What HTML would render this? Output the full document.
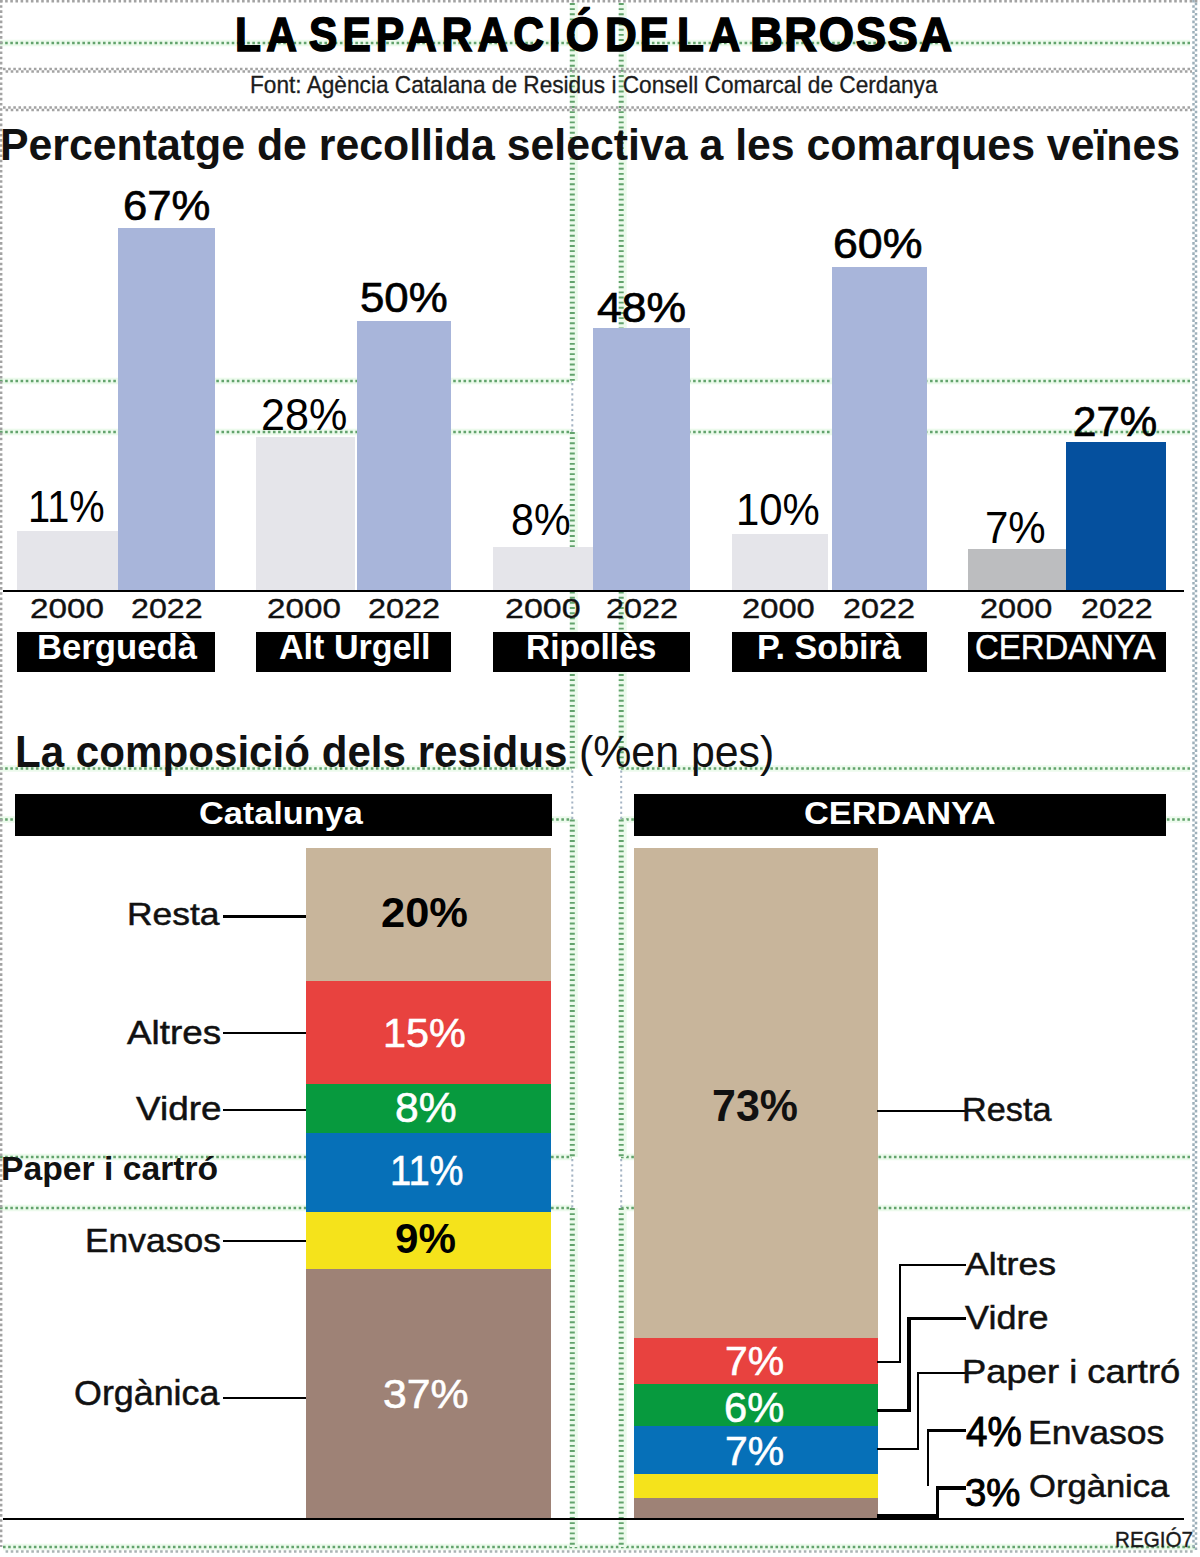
<!DOCTYPE html>
<html lang="ca"><head><meta charset="utf-8"><title>La separació de la brossa</title>
<style>
html,body{margin:0;padding:0;background:#fff}
#page{position:relative;width:1200px;height:1557px;overflow:hidden;background:#fff;font-family:"Liberation Sans",sans-serif}
.t{position:absolute;white-space:nowrap;line-height:1;transform-origin:0 0;margin:0}
.r{position:absolute}
svg{position:absolute;left:0;top:0}
</style></head><body>
<div id="page">
<svg width="1200" height="1557" viewBox="0 0 1200 1557" >
<line x1="0" y1="43" x2="572" y2="43" stroke="#ecfaec" stroke-width="6.5"/>
<line x1="0" y1="43" x2="572" y2="43" stroke="#62a36c" stroke-width="2.5" stroke-dasharray="2.575 2.575" stroke-dashoffset="0"/>
<line x1="621" y1="43" x2="1190" y2="43" stroke="#ecfaec" stroke-width="6.5"/>
<line x1="621" y1="43" x2="1190" y2="43" stroke="#62a36c" stroke-width="2.5" stroke-dasharray="2.575 2.575" stroke-dashoffset="0"/>
<line x1="0" y1="381" x2="572" y2="381" stroke="#ecfaec" stroke-width="6.5"/>
<line x1="0" y1="381" x2="572" y2="381" stroke="#62a36c" stroke-width="2.5" stroke-dasharray="2.575 2.575" stroke-dashoffset="0"/>
<line x1="621" y1="381" x2="1190" y2="381" stroke="#ecfaec" stroke-width="6.5"/>
<line x1="621" y1="381" x2="1190" y2="381" stroke="#62a36c" stroke-width="2.5" stroke-dasharray="2.575 2.575" stroke-dashoffset="0"/>
<line x1="0" y1="432" x2="572" y2="432" stroke="#ecfaec" stroke-width="6.5"/>
<line x1="0" y1="432" x2="572" y2="432" stroke="#62a36c" stroke-width="2.5" stroke-dasharray="2.575 2.575" stroke-dashoffset="0"/>
<line x1="621" y1="432" x2="1190" y2="432" stroke="#ecfaec" stroke-width="6.5"/>
<line x1="621" y1="432" x2="1190" y2="432" stroke="#62a36c" stroke-width="2.5" stroke-dasharray="2.575 2.575" stroke-dashoffset="0"/>
<line x1="0" y1="768.5" x2="572" y2="768.5" stroke="#ecfaec" stroke-width="6.5"/>
<line x1="0" y1="768.5" x2="572" y2="768.5" stroke="#62a36c" stroke-width="2.5" stroke-dasharray="2.575 2.575" stroke-dashoffset="0"/>
<line x1="621" y1="768.5" x2="1190" y2="768.5" stroke="#ecfaec" stroke-width="6.5"/>
<line x1="621" y1="768.5" x2="1190" y2="768.5" stroke="#62a36c" stroke-width="2.5" stroke-dasharray="2.575 2.575" stroke-dashoffset="0"/>
<line x1="0" y1="819.5" x2="572" y2="819.5" stroke="#ecfaec" stroke-width="6.5"/>
<line x1="0" y1="819.5" x2="572" y2="819.5" stroke="#62a36c" stroke-width="2.5" stroke-dasharray="2.575 2.575" stroke-dashoffset="0"/>
<line x1="621" y1="819.5" x2="1190" y2="819.5" stroke="#ecfaec" stroke-width="6.5"/>
<line x1="621" y1="819.5" x2="1190" y2="819.5" stroke="#62a36c" stroke-width="2.5" stroke-dasharray="2.575 2.575" stroke-dashoffset="0"/>
<line x1="0" y1="1157" x2="572" y2="1157" stroke="#ecfaec" stroke-width="6.5"/>
<line x1="0" y1="1157" x2="572" y2="1157" stroke="#62a36c" stroke-width="2.5" stroke-dasharray="2.575 2.575" stroke-dashoffset="0"/>
<line x1="621" y1="1157" x2="1190" y2="1157" stroke="#ecfaec" stroke-width="6.5"/>
<line x1="621" y1="1157" x2="1190" y2="1157" stroke="#62a36c" stroke-width="2.5" stroke-dasharray="2.575 2.575" stroke-dashoffset="0"/>
<line x1="0" y1="1208" x2="572" y2="1208" stroke="#ecfaec" stroke-width="6.5"/>
<line x1="0" y1="1208" x2="572" y2="1208" stroke="#62a36c" stroke-width="2.5" stroke-dasharray="2.575 2.575" stroke-dashoffset="0"/>
<line x1="621" y1="1208" x2="1190" y2="1208" stroke="#ecfaec" stroke-width="6.5"/>
<line x1="621" y1="1208" x2="1190" y2="1208" stroke="#62a36c" stroke-width="2.5" stroke-dasharray="2.575 2.575" stroke-dashoffset="0"/>
<line x1="3" y1="1547" x2="1195" y2="1547" stroke="#ecfaec" stroke-width="6.5"/>
<line x1="3" y1="1547" x2="1195" y2="1547" stroke="#62a36c" stroke-width="2.5" stroke-dasharray="2.575 2.575" stroke-dashoffset="0"/>
<line x1="3" y1="1551.5" x2="1195" y2="1551.5" stroke="#a9b4b4" stroke-width="2.5" stroke-dasharray="2.575 2.575" stroke-dashoffset="2.575"/>
<line x1="573.8" y1="3" x2="573.8" y2="381" stroke="#ecfaec" stroke-width="8"/>
<line x1="572.3" y1="3" x2="572.3" y2="381" stroke="#62a36c" stroke-width="5" stroke-dasharray="1.9 3.2500000000000004"/>
<line x1="573.8" y1="432" x2="573.8" y2="768.5" stroke="#ecfaec" stroke-width="8"/>
<line x1="572.3" y1="432" x2="572.3" y2="768.5" stroke="#62a36c" stroke-width="5" stroke-dasharray="1.9 3.2500000000000004"/>
<line x1="573.8" y1="819.5" x2="573.8" y2="1157" stroke="#ecfaec" stroke-width="8"/>
<line x1="572.3" y1="819.5" x2="572.3" y2="1157" stroke="#62a36c" stroke-width="5" stroke-dasharray="1.9 3.2500000000000004"/>
<line x1="573.8" y1="1208" x2="573.8" y2="1547" stroke="#ecfaec" stroke-width="8"/>
<line x1="572.3" y1="1208" x2="572.3" y2="1547" stroke="#62a36c" stroke-width="5" stroke-dasharray="1.9 3.2500000000000004"/>
<line x1="572.3" y1="383" x2="572.3" y2="432" stroke="#a5b4c4" stroke-width="2" stroke-dasharray="2.2 2.95"/>
<line x1="572.3" y1="770.5" x2="572.3" y2="819.5" stroke="#a5b4c4" stroke-width="2" stroke-dasharray="2.2 2.95"/>
<line x1="572.3" y1="1159" x2="572.3" y2="1208" stroke="#a5b4c4" stroke-width="2" stroke-dasharray="2.2 2.95"/>
<line x1="622.7" y1="3" x2="622.7" y2="381" stroke="#ecfaec" stroke-width="8"/>
<line x1="621.2" y1="3" x2="621.2" y2="381" stroke="#62a36c" stroke-width="5" stroke-dasharray="1.9 3.2500000000000004"/>
<line x1="622.7" y1="432" x2="622.7" y2="768.5" stroke="#ecfaec" stroke-width="8"/>
<line x1="621.2" y1="432" x2="621.2" y2="768.5" stroke="#62a36c" stroke-width="5" stroke-dasharray="1.9 3.2500000000000004"/>
<line x1="622.7" y1="819.5" x2="622.7" y2="1157" stroke="#ecfaec" stroke-width="8"/>
<line x1="621.2" y1="819.5" x2="621.2" y2="1157" stroke="#62a36c" stroke-width="5" stroke-dasharray="1.9 3.2500000000000004"/>
<line x1="622.7" y1="1208" x2="622.7" y2="1547" stroke="#ecfaec" stroke-width="8"/>
<line x1="621.2" y1="1208" x2="621.2" y2="1547" stroke="#62a36c" stroke-width="5" stroke-dasharray="1.9 3.2500000000000004"/>
<line x1="621.2" y1="383" x2="621.2" y2="432" stroke="#a5b4c4" stroke-width="2" stroke-dasharray="2.2 2.95"/>
<line x1="621.2" y1="770.5" x2="621.2" y2="819.5" stroke="#a5b4c4" stroke-width="2" stroke-dasharray="2.2 2.95"/>
<line x1="621.2" y1="1159" x2="621.2" y2="1208" stroke="#a5b4c4" stroke-width="2" stroke-dasharray="2.2 2.95"/>
<line x1="1.2" y1="0" x2="1.2" y2="1547" stroke="#a3a3a3" stroke-width="2.4" stroke-dasharray="2.575 2.575" stroke-dashoffset="0"/>
<line x1="0" y1="1.2" x2="1200" y2="1.2" stroke="#a3a3a3" stroke-width="2.4" stroke-dasharray="2.575 2.575" stroke-dashoffset="0"/>
<line x1="1193.5" y1="0" x2="1193.5" y2="1550" stroke="#9db0ba" stroke-width="2.5" stroke-dasharray="2.575 2.575" stroke-dashoffset="0"/>
<line x1="1196" y1="0" x2="1196" y2="1550" stroke="#9db0ba" stroke-width="2.5" stroke-dasharray="2.575 2.575" stroke-dashoffset="2.575"/>
<line x1="3" y1="69" x2="1192" y2="69" stroke="#a3a3a3" stroke-width="2.5" stroke-dasharray="2.575 2.575" stroke-dashoffset="0"/>
<line x1="3" y1="71.5" x2="1192" y2="71.5" stroke="#a3a3a3" stroke-width="2.5" stroke-dasharray="2.575 2.575" stroke-dashoffset="2.575"/>
<line x1="3" y1="107.5" x2="1192" y2="107.5" stroke="#a3a3a3" stroke-width="2.5" stroke-dasharray="2.575 2.575" stroke-dashoffset="0"/>
<line x1="3" y1="110.0" x2="1192" y2="110.0" stroke="#a3a3a3" stroke-width="2.5" stroke-dasharray="2.575 2.575" stroke-dashoffset="2.575"/>
</svg>
<div class="r" style="left:17px;top:531px;width:100.5px;height:59px;background:#e5e5ea"></div>
<div class="r" style="left:117.5px;top:228px;width:97.5px;height:362px;background:#a8b5da"></div>
<div class="r" style="left:256px;top:436.5px;width:98.5px;height:153.5px;background:#e5e5ea"></div>
<div class="r" style="left:357px;top:320.5px;width:94px;height:269.5px;background:#a8b5da"></div>
<div class="r" style="left:493px;top:546.5px;width:100px;height:43.5px;background:#e5e5ea"></div>
<div class="r" style="left:593px;top:328px;width:97px;height:262px;background:#a8b5da"></div>
<div class="r" style="left:732px;top:534px;width:95.5px;height:56px;background:#e5e5ea"></div>
<div class="r" style="left:832px;top:267px;width:95px;height:323px;background:#a8b5da"></div>
<div class="r" style="left:968px;top:549px;width:98px;height:41px;background:#bcbdbf"></div>
<div class="r" style="left:1066px;top:441.5px;width:100px;height:148.5px;background:#05509e"></div>
<div class="r" style="left:3px;top:590px;width:1181px;height:2.2999999999999545px;background:#000"></div>
<div class="r" style="left:17px;top:632px;width:198px;height:40px;background:#000"></div>
<div class="r" style="left:256px;top:632px;width:195px;height:40px;background:#000"></div>
<div class="r" style="left:493px;top:632px;width:197px;height:40px;background:#000"></div>
<div class="r" style="left:732px;top:632px;width:195px;height:40px;background:#000"></div>
<div class="r" style="left:968px;top:632px;width:198px;height:40px;background:#000"></div>
<div class="r" style="left:15px;top:794px;width:536.5px;height:42px;background:#000"></div>
<div class="r" style="left:634px;top:794px;width:532px;height:42px;background:#000"></div>
<div class="r" style="left:305.5px;top:847.5px;width:245.5px;height:133.20000000000005px;background:#c8b59b"></div>
<div class="r" style="left:305.5px;top:980.7px;width:245.5px;height:103.29999999999995px;background:#e8423f"></div>
<div class="r" style="left:305.5px;top:1084px;width:245.5px;height:48.700000000000045px;background:#079a3e"></div>
<div class="r" style="left:305.5px;top:1132.7px;width:245.5px;height:79.0px;background:#0670b8"></div>
<div class="r" style="left:305.5px;top:1211.7px;width:245.5px;height:57.299999999999955px;background:#f5e31b"></div>
<div class="r" style="left:305.5px;top:1269px;width:245.5px;height:249px;background:#9e8276"></div>
<div class="r" style="left:634px;top:847.5px;width:243.5px;height:490.5px;background:#c8b59b"></div>
<div class="r" style="left:634px;top:1338px;width:243.5px;height:46px;background:#e8423f"></div>
<div class="r" style="left:634px;top:1384px;width:243.5px;height:42px;background:#079a3e"></div>
<div class="r" style="left:634px;top:1426px;width:243.5px;height:48px;background:#0670b8"></div>
<div class="r" style="left:634px;top:1474px;width:243.5px;height:24px;background:#f5e31b"></div>
<div class="r" style="left:634px;top:1498px;width:243.5px;height:21px;background:#9e8276"></div>
<div class="r" style="left:3px;top:1518px;width:1181px;height:2.2999999999999545px;background:#000"></div>
<div class="r" style="left:223px;top:914.70px;width:83.00px;height:3.6px;background:#000"></div>
<div class="r" style="left:223px;top:1032.00px;width:83.00px;height:2px;background:#000"></div>
<div class="r" style="left:223px;top:1108.50px;width:83.00px;height:2px;background:#000"></div>
<div class="r" style="left:223px;top:1240.00px;width:83.00px;height:2px;background:#000"></div>
<div class="r" style="left:223px;top:1397.00px;width:83.00px;height:2px;background:#000"></div>
<div class="r" style="left:877px;top:1109.50px;width:89.00px;height:2px;background:#000"></div>
<div class="r" style="left:877px;top:1361.00px;width:23.50px;height:2px;background:#000"></div>
<div class="r" style="left:898.50px;top:1263.5px;width:2px;height:99.50px;background:#000"></div>
<div class="r" style="left:898.5px;top:1263.50px;width:67.50px;height:2px;background:#000"></div>
<div class="r" style="left:877px;top:1409.45px;width:33.70px;height:2.5px;background:#000"></div>
<div class="r" style="left:906.70px;top:1317.5px;width:4px;height:94.50px;background:#000"></div>
<div class="r" style="left:906.7px;top:1317.45px;width:59.30px;height:2.5px;background:#000"></div>
<div class="r" style="left:877px;top:1447.70px;width:42.10px;height:2px;background:#000"></div>
<div class="r" style="left:916.90px;top:1371.5px;width:2.2px;height:78.20px;background:#000"></div>
<div class="r" style="left:916.9px;top:1371.50px;width:49.10px;height:2px;background:#000"></div>
<div class="r" style="left:927.20px;top:1428.7px;width:2.2px;height:57.30px;background:#000"></div>
<div class="r" style="left:927.2px;top:1428.65px;width:38.80px;height:3.5px;background:#000"></div>
<div class="r" style="left:877px;top:1513.80px;width:61.70px;height:6.4px;background:#000"></div>
<div class="r" style="left:936.30px;top:1486.3px;width:2.4px;height:31.70px;background:#000"></div>
<div class="r" style="left:936.3px;top:1486.25px;width:29.70px;height:3.5px;background:#000"></div>
<div class="t" style="left:234.84px;top:11.22px;font-size:47.82px;font-weight:bold;color:#000;transform:scaleX(0.8900);letter-spacing:5.89px;-webkit-text-stroke:1.5px #000;">LA</div>
<div class="t" style="left:308.84px;top:11.22px;font-size:47.82px;font-weight:bold;color:#000;transform:scaleX(0.8900);letter-spacing:5.61px;-webkit-text-stroke:1.5px #000;">SEPARACIÓ</div>
<div class="t" style="left:604.75px;top:11.22px;font-size:47.82px;font-weight:bold;color:#000;transform:scaleX(0.9200);letter-spacing:3.04px;-webkit-text-stroke:1.5px #000;">DE</div>
<div class="t" style="left:676.75px;top:11.22px;font-size:47.82px;font-weight:bold;color:#000;transform:scaleX(0.9200);letter-spacing:5.37px;-webkit-text-stroke:1.5px #000;">LA</div>
<div class="t" style="left:749.66px;top:11.22px;font-size:47.82px;font-weight:bold;color:#000;transform:scaleX(0.9500);letter-spacing:1.65px;-webkit-text-stroke:1.5px #000;">BROSSA</div>
<div class="t" style="left:250.23px;top:73.61px;font-size:23.26px;font-weight:normal;color:#1c1c1c;transform:scaleX(0.9743);-webkit-text-stroke:0.3px #1c1c1c;">Font: Agència Catalana de Residus i Consell Comarcal de Cerdanya</div>
<div class="t" style="left:-0.18px;top:122.06px;font-size:45.06px;font-weight:bold;color:#111;transform:scaleX(0.9502);">Percentatge de recollida selectiva a les comarques veïnes</div>
<div class="t" style="left:122.95px;top:183.92px;font-size:42.86px;font-weight:normal;color:#000;transform:scaleX(1.0183);-webkit-text-stroke:0.7px #000;">67%</div>
<div class="t" style="left:27.51px;top:486.12px;font-size:43.57px;font-weight:normal;color:#000;transform:scaleX(0.9130);">11%</div>
<div class="t" style="left:260.98px;top:394.12px;font-size:43.57px;font-weight:normal;color:#000;transform:scaleX(0.9897);">28%</div>
<div class="t" style="left:360.13px;top:276.20px;font-size:43.00px;font-weight:normal;color:#000;transform:scaleX(1.0187);-webkit-text-stroke:0.7px #000;">50%</div>
<div class="t" style="left:511.21px;top:498.27px;font-size:44.57px;font-weight:normal;color:#000;transform:scaleX(0.9238);">8%</div>
<div class="t" style="left:597.31px;top:285.92px;font-size:42.86px;font-weight:normal;color:#000;transform:scaleX(1.0378);-webkit-text-stroke:0.7px #000;">48%</div>
<div class="t" style="left:736.38px;top:489.12px;font-size:43.57px;font-weight:normal;color:#000;transform:scaleX(0.9617);">10%</div>
<div class="t" style="left:832.91px;top:221.92px;font-size:42.86px;font-weight:normal;color:#000;transform:scaleX(1.0425);-webkit-text-stroke:0.7px #000;">60%</div>
<div class="t" style="left:985.03px;top:505.87px;font-size:43.86px;font-weight:normal;color:#000;transform:scaleX(0.9579);">7%</div>
<div class="t" style="left:1073.03px;top:399.92px;font-size:42.86px;font-weight:normal;color:#000;transform:scaleX(0.9819);-webkit-text-stroke:0.7px #000;">27%</div>
<div class="t" style="left:30.14px;top:594.78px;font-size:27.43px;font-weight:normal;color:#111;transform:scaleX(1.2126);-webkit-text-stroke:0.35px #111;">2000</div>
<div class="t" style="left:130.99px;top:594.78px;font-size:27.43px;font-weight:normal;color:#111;transform:scaleX(1.1737);-webkit-text-stroke:0.35px #111;">2022</div>
<div class="t" style="left:267.44px;top:594.78px;font-size:27.43px;font-weight:normal;color:#111;transform:scaleX(1.2109);-webkit-text-stroke:0.35px #111;">2000</div>
<div class="t" style="left:368.48px;top:594.78px;font-size:27.43px;font-weight:normal;color:#111;transform:scaleX(1.1822);-webkit-text-stroke:0.35px #111;">2022</div>
<div class="t" style="left:504.71px;top:594.78px;font-size:27.43px;font-weight:normal;color:#111;transform:scaleX(1.2396);-webkit-text-stroke:0.35px #111;">2000</div>
<div class="t" style="left:606.48px;top:594.78px;font-size:27.43px;font-weight:normal;color:#111;transform:scaleX(1.1822);-webkit-text-stroke:0.35px #111;">2022</div>
<div class="t" style="left:742.46px;top:594.78px;font-size:27.43px;font-weight:normal;color:#111;transform:scaleX(1.1939);-webkit-text-stroke:0.35px #111;">2000</div>
<div class="t" style="left:843.48px;top:594.78px;font-size:27.43px;font-weight:normal;color:#111;transform:scaleX(1.1822);-webkit-text-stroke:0.35px #111;">2022</div>
<div class="t" style="left:980.48px;top:594.78px;font-size:27.43px;font-weight:normal;color:#111;transform:scaleX(1.1855);-webkit-text-stroke:0.35px #111;">2000</div>
<div class="t" style="left:1081.19px;top:594.78px;font-size:27.43px;font-weight:normal;color:#111;transform:scaleX(1.1737);-webkit-text-stroke:0.35px #111;">2022</div>
<div class="t" style="left:36.83px;top:630.16px;font-size:34.30px;font-weight:bold;color:#fff;transform:scaleX(1.0110);">Berguedà</div>
<div class="t" style="left:279.47px;top:630.16px;font-size:34.30px;font-weight:bold;color:#fff;transform:scaleX(0.9940);">Alt Urgell</div>
<div class="t" style="left:525.90px;top:630.16px;font-size:34.30px;font-weight:bold;color:#fff;transform:scaleX(0.9778);">Ripollès</div>
<div class="t" style="left:756.86px;top:630.16px;font-size:34.30px;font-weight:bold;color:#fff;transform:scaleX(0.9976);">P. Sobirà</div>
<div class="t" style="left:975.46px;top:630.16px;font-size:34.30px;font-weight:normal;color:#fff;transform:scaleX(0.9592);-webkit-text-stroke:0.5px #fff;">CERDANYA</div>
<div class="t" style="left:15.17px;top:730.04px;font-size:43.90px;font-weight:bold;color:#111;transform:scaleX(0.9598);">La composició dels residus</div>
<div class="t" style="left:578.99px;top:730.04px;font-size:43.90px;font-weight:normal;color:#111;transform:scaleX(0.9758);">(%en pes)</div>
<div class="t" style="left:198.93px;top:796.93px;font-size:31.98px;font-weight:bold;color:#fff;transform:scaleX(1.0722);">Catalunya</div>
<div class="t" style="left:803.93px;top:796.93px;font-size:31.98px;font-weight:bold;color:#fff;transform:scaleX(1.0755);">CERDANYA</div>
<div class="t" style="left:127.23px;top:897.93px;font-size:31.98px;font-weight:normal;color:#111;transform:scaleX(1.1079);-webkit-text-stroke:0.5px #111;">Resta</div>
<div class="t" style="left:127.00px;top:1015.70px;font-size:33.43px;font-weight:normal;color:#111;transform:scaleX(1.1018);-webkit-text-stroke:0.5px #111;">Altres</div>
<div class="t" style="left:136.00px;top:1091.70px;font-size:33.43px;font-weight:normal;color:#111;transform:scaleX(1.1041);-webkit-text-stroke:0.5px #111;">Vidre</div>
<div class="t" style="left:0.89px;top:1151.70px;font-size:33.43px;font-weight:bold;color:#111;transform:scaleX(1.0078);">Paper i cartró</div>
<div class="t" style="left:85.23px;top:1223.70px;font-size:33.43px;font-weight:normal;color:#111;transform:scaleX(1.0597);-webkit-text-stroke:0.5px #111;">Envasos</div>
<div class="t" style="left:74.32px;top:1376.47px;font-size:34.88px;font-weight:normal;color:#111;transform:scaleX(1.0276);-webkit-text-stroke:0.5px #111;">Orgànica</div>
<div class="t" style="left:380.64px;top:890.72px;font-size:42.86px;font-weight:bold;color:#000;transform:scaleX(1.0139);">20%</div>
<div class="t" style="left:383.41px;top:1011.93px;font-size:41.43px;font-weight:normal;color:#fff;transform:scaleX(0.9988);-webkit-text-stroke:0.6px #fff;">15%</div>
<div class="t" style="left:394.67px;top:1085.72px;font-size:42.86px;font-weight:normal;color:#fff;transform:scaleX(0.9945);-webkit-text-stroke:0.6px #fff;">8%</div>
<div class="t" style="left:389.62px;top:1148.72px;font-size:42.86px;font-weight:normal;color:#fff;transform:scaleX(0.8901);-webkit-text-stroke:0.6px #fff;">11%</div>
<div class="t" style="left:394.68px;top:1216.72px;font-size:42.86px;font-weight:bold;color:#000;transform:scaleX(0.9834);">9%</div>
<div class="t" style="left:382.66px;top:1372.93px;font-size:41.43px;font-weight:normal;color:#fff;transform:scaleX(1.0325);-webkit-text-stroke:0.6px #fff;">37%</div>
<div class="t" style="left:711.66px;top:1083.51px;font-size:44.29px;font-weight:bold;color:#111;transform:scaleX(0.9697);">73%</div>
<div class="t" style="left:725.08px;top:1339.93px;font-size:41.43px;font-weight:normal;color:#fff;transform:scaleX(0.9876);-webkit-text-stroke:0.6px #fff;">7%</div>
<div class="t" style="left:724.05px;top:1385.72px;font-size:42.86px;font-weight:normal;color:#fff;transform:scaleX(0.9718);-webkit-text-stroke:0.6px #fff;">6%</div>
<div class="t" style="left:725.08px;top:1429.93px;font-size:41.43px;font-weight:normal;color:#fff;transform:scaleX(0.9876);-webkit-text-stroke:0.6px #fff;">7%</div>
<div class="t" style="left:962.32px;top:1092.70px;font-size:33.43px;font-weight:normal;color:#111;transform:scaleX(1.0244);-webkit-text-stroke:0.5px #111;">Resta</div>
<div class="t" style="left:965.00px;top:1247.93px;font-size:31.98px;font-weight:normal;color:#111;transform:scaleX(1.1147);-webkit-text-stroke:0.5px #111;">Altres</div>
<div class="t" style="left:965.00px;top:1300.70px;font-size:33.43px;font-weight:normal;color:#111;transform:scaleX(1.0778);-webkit-text-stroke:0.5px #111;">Vidre</div>
<div class="t" style="left:962.16px;top:1354.70px;font-size:33.43px;font-weight:normal;color:#111;transform:scaleX(1.0880);-webkit-text-stroke:0.5px #111;">Paper i cartró</div>
<div class="t" style="left:965.90px;top:1411.33px;font-size:42.14px;font-weight:normal;color:#000;transform:scaleX(0.9153);-webkit-text-stroke:1.0px #000;">4%</div>
<div class="t" style="left:1028.22px;top:1415.96px;font-size:33.72px;font-weight:normal;color:#111;transform:scaleX(1.0545);-webkit-text-stroke:0.5px #111;">Envasos</div>
<div class="t" style="left:965.30px;top:1472.74px;font-size:39.29px;font-weight:normal;color:#000;transform:scaleX(0.9746);-webkit-text-stroke:1.0px #000;">3%</div>
<div class="t" style="left:1029.38px;top:1471.62px;font-size:30.81px;font-weight:normal;color:#111;transform:scaleX(1.1229);-webkit-text-stroke:0.5px #111;">Orgànica</div>
<div class="t" style="left:1115.09px;top:1528.36px;font-size:22.97px;font-weight:normal;color:#1a1a1a;transform:scaleX(0.8994);-webkit-text-stroke:0.4px #1a1a1a;">REGIÓ7</div>
</div>
</body></html>
